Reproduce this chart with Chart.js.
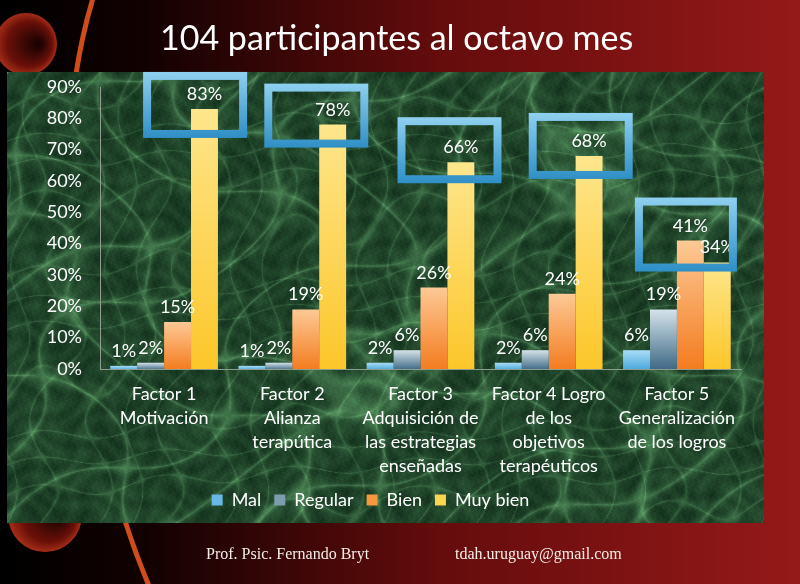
<!DOCTYPE html>
<html>
<head>
<meta charset="utf-8">
<script src="https://cdn.jsdelivr.net/npm/chart.js@4.4.1/dist/chart.umd.min.js"></script>
<style>
  body { margin: 0; background: #000; }
  #slide { position: relative; width: 800px; height: 584px; overflow: hidden; }
  #bg, #chart, #panel { position: absolute; left: 0; top: 0; }
  #panel { left: 7px; top: 72px; }
  #title {
    position: absolute; left: 160px; top: 16px; margin: 0;
    font: normal 34px Lato, "Open Sans", sans-serif; color: #fff; white-space: nowrap;
  }
</style>
</head>
<body>
<div id="slide">
  <canvas id="bg" width="800" height="584"></canvas>
  <canvas id="panel" width="757" height="451"></canvas>
  <h1 id="title">104 participantes al octavo mes</h1>
  <canvas id="chart" width="800" height="584"></canvas>
</div>
<script>
// Chart data
const categories = [
  ['Factor 1', 'Motivación'],
  ['Factor 2', 'Alianza', 'terapútica'],
  ['Factor 3', 'Adquisición de', 'las estrategias', 'enseñadas'],
  ['Factor 4 Logro', 'de los', 'objetivos', 'terapéuticos'],
  ['Factor 5', 'Generalización', 'de los logros']
];
const seriesNames = ['Mal', 'Regular', 'Bien', 'Muy bien'];
const mal = [1, 1, 2, 2, 6];
const regular = [2, 2, 6, 6, 19];
const bien = [15, 19, 26, 24, 41];
const muyBien = [83, 78, 66, 68, 34];
const yTicks = [0, 10, 20, 30, 40, 50, 60, 70, 80, 90];

// highlight boxes: category index, series used for the height, offsets in px
const boxes = [
  { i: 0, s: 3, x0: -21, x1: 83, y0: -37, y1: 29 },
  { i: 1, s: 3, x0: -28, x1: 76, y0: -41, y1: 23 },
  { i: 2, s: 3, x0: -23, x1: 81, y0: -45, y1: 21 },
  { i: 3, s: 3, x0: -20, x1: 84, y0: -43, y1: 23 },
  { i: 4, s: 2, x0: -42, x1: 60, y0: -43, y1: 31 }
];

const FONT = 'Lato, "Open Sans", sans-serif';
const gradStops = [
  ['#a9ddf6', '#4aa6dc'],
  ['#d5e3ea', '#3d6884'],
  ['#fdc995', '#f47b1f'],
  ['#fee68c', '#fcc629']
];
const solid = ['#66b8e6', '#7d9cb0', '#f7983f', '#fdd54f'];

// slide background
function drawBackground() {
  const c = document.getElementById('bg').getContext('2d');
  const g = c.createLinearGradient(0, 0, 800, 0);
  g.addColorStop(0, '#000');
  g.addColorStop(0.18, '#120101');
  g.addColorStop(0.55, '#650c0c');
  g.addColorStop(1, '#951919');
  c.fillStyle = g;
  c.fillRect(0, 0, 800, 584);

  // circles on the left
  const circ = (cx, cy, r) => {
    const rg = c.createRadialGradient(cx + r * 0.4, cy, r * 0.1, cx, cy, r);
    rg.addColorStop(0, '#1e0302');
    rg.addColorStop(0.7, '#6a1008');
    rg.addColorStop(1, '#a52d17');
    c.fillStyle = rg;
    c.beginPath();
    c.arc(cx, cy, r, 0, Math.PI * 2);
    c.fill();
  };
  circ(26, 44, 31);
  circ(45, 515, 37);

  // orange arcs
  c.strokeStyle = '#cf4d1b';
  c.lineWidth = 5;
  c.beginPath();
  c.moveTo(93, -2);
  c.quadraticCurveTo(82, 35, 76, 74);
  c.stroke();
  c.beginPath();
  c.moveTo(125, 521);
  c.quadraticCurveTo(136, 555, 149, 586);
  c.stroke();

  // footer texts
  c.fillStyle = '#f4eee8';
  c.font = '16px "Liberation Serif", serif';
  c.textBaseline = 'middle';
  c.fillText('Prof. Psic. Fernando Bryt', 206, 555);
  c.fillText('tdah.uruguay@gmail.com', 455, 555);
}
drawBackground();

// green marble panel, veins from a sum of sines
function drawMarble() {
  const cv = document.getElementById('panel');
  const c = cv.getContext('2d');
  const w = cv.width, h = cv.height;
  const img = c.createImageData(w, h);
  for (let y = 0; y < h; y++) {
    for (let x = 0; x < w; x++) {
      const f1 = Math.sin(x * 0.045 + Math.sin(y * 0.031) * 2.2) + Math.sin(y * 0.052 + Math.sin(x * 0.027) * 1.8);
      const f2 = Math.sin((x + y) * 0.083 + Math.sin(x * 0.05) * 1.3) + Math.sin((x - y) * 0.067 + Math.sin(y * 0.041) * 2.5);
      const v1 = Math.pow(1 - Math.min(1, Math.abs(f1) / 1.1), 7);
      const v2 = Math.pow(1 - Math.min(1, Math.abs(f2) / 1.1), 9);
      const m = 0.5 + 0.5 * Math.sin(x * 0.13 + Math.sin(y * 0.11) * 2) * Math.sin(y * 0.15 + Math.sin(x * 0.09) * 2);
      const fine = 0.5 + 0.5 * Math.sin(x * 0.9 + Math.sin(y * 0.7) * 3) * Math.sin(y * 1.1 + x * 0.3);
      const v = Math.min(1, v1 * 0.45 + v2 * 0.3 + m * 0.22 + fine * 0.12);
      const k = (y * w + x) * 4;
      img.data[k] = 16 + v * 80;
      img.data[k + 1] = 46 + v * 115;
      img.data[k + 2] = 26 + v * 80;
      img.data[k + 3] = 255;
    }
  }
  c.putImageData(img, 0, 0);
}
drawMarble();

function barFill(s) {
  return ctx => {
    if (ctx.type !== 'data' || !ctx.chart.chartArea) return solid[s];
    const y = ctx.chart.scales.y;
    const top = y.getPixelForValue(ctx.raw);
    const base = y.getPixelForValue(0);
    const g = ctx.chart.ctx.createLinearGradient(0, top, 0, base + 1);
    g.addColorStop(0, gradStops[s][0]);
    g.addColorStop(1, gradStops[s][1]);
    return g;
  };
}

const valueLabels = {
  id: 'valueLabels',
  afterDatasetsDraw(chart) {
    const c = chart.ctx;
    c.save();
    c.fillStyle = '#ffffff';
    c.font = '18px ' + FONT;
    c.textAlign = 'center';
    c.textBaseline = 'alphabetic';
    chart.data.datasets.forEach((ds, di) => {
      chart.getDatasetMeta(di).data.forEach((bar, j) => {
        c.fillText(ds.data[j] + '%', bar.x, bar.y - 9);
      });
    });
    c.restore();
  }
};

const highlightBoxes = {
  id: 'highlightBoxes',
  afterDatasetsDraw(chart) {
    const c = chart.ctx;
    const xs = chart.scales.x, ys = chart.scales.y;
    c.save();
    c.lineWidth = 8;
    boxes.forEach(b => {
      const cx = xs.getPixelForValue(b.i);
      const vy = ys.getPixelForValue(chart.data.datasets[b.s].data[b.i]);
      const l = cx + b.x0 + 4, r = cx + b.x1 - 4;
      const t = vy + b.y0 + 4, btm = vy + b.y1 - 4;
      const g = c.createLinearGradient(0, t - 4, 0, btm + 4);
      g.addColorStop(0, '#8fd0ef');
      g.addColorStop(1, '#2f8fc6');
      c.strokeStyle = g;
      c.strokeRect(l, t, r - l, btm - t);
    });
    c.restore();
  }
};

const series = [mal, regular, bien, muyBien];

new Chart(document.getElementById('chart'), {
  type: 'bar',
  data: {
    labels: categories,
    datasets: series.map((d, s) => ({
      label: seriesNames[s],
      data: d,
      backgroundColor: barFill(s),
      borderWidth: 0,
      categoryPercentage: 0.84,
      barPercentage: 1.0
    }))
  },
  options: {
    responsive: false,
    animation: false,
    layout: { padding: { left: 0, right: 59, top: 87, bottom: 65 } },
    scales: {
      x: {
        grid: { display: false },
        border: { color: '#8d9c8f', width: 1 },
        ticks: {
          color: '#ffffff',
          font: { family: FONT, size: 18, lineHeight: 1.33 },
          padding: 5,
          maxRotation: 0,
          autoSkip: false
        },
        afterFit: s => { s.height = 109; }
      },
      y: {
        min: 0,
        max: 90,
        grid: { display: false },
        border: { color: '#8d9c8f', width: 1 },
        afterBuildTicks: s => { s.ticks = yTicks.map(v => ({ value: v })); },
        ticks: {
          color: '#ffffff',
          font: { family: FONT, size: 18 },
          padding: 10,
          callback: v => v + '%'
        },
        afterFit: s => { s.width = 100; }
      }
    },
    plugins: {
      title: { display: false },
      legend: {
        position: 'bottom',
        labels: {
          color: '#ffffff',
          font: { family: FONT, size: 18 },
          boxWidth: 11,
          boxHeight: 11,
          padding: 13,
          generateLabels: chart => chart.data.datasets.map((ds, i) => ({
            text: ds.label,
            fillStyle: solid[i],
            strokeStyle: solid[i],
            lineWidth: 0,
            fontColor: '#ffffff',
            datasetIndex: i
          }))
        }
      },
      tooltip: { enabled: false }
    }
  },
  plugins: [valueLabels, highlightBoxes]
});
</script>
</body>
</html>
